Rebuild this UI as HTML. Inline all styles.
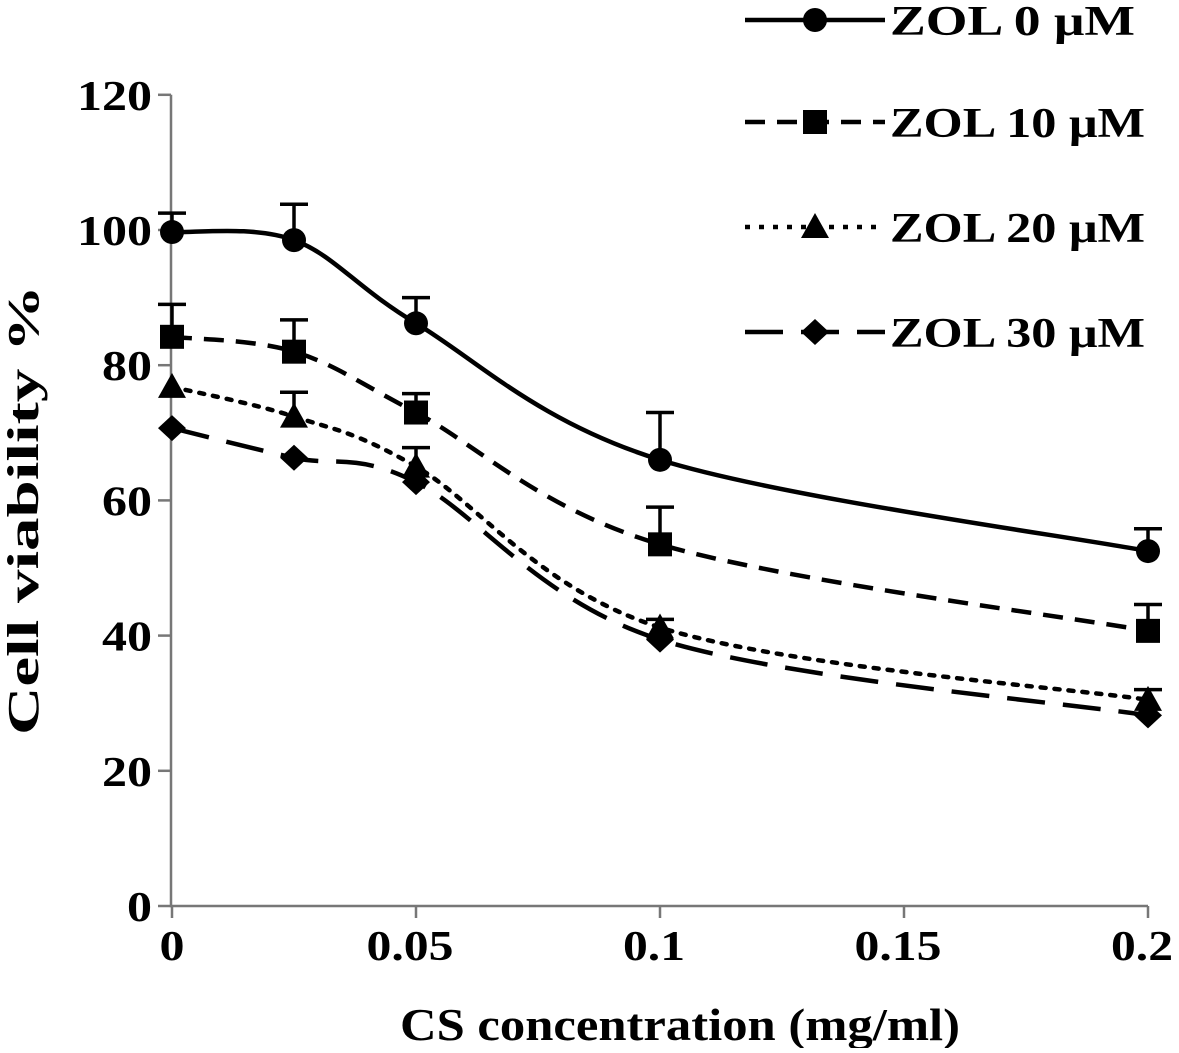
<!DOCTYPE html>
<html><head><meta charset="utf-8"><style>
body{margin:0;background:#fff}
text{font-family:"Liberation Serif",serif;font-weight:bold;fill:#000}
</style></head><body>
<svg id="c" width="1179" height="1048" viewBox="0 0 1179 1048" xmlns="http://www.w3.org/2000/svg">
<g id="axes"></g>
<g id="series"></g>
<g id="legend"></g>
<text x="400" y="1040" font-size="46" textLength="560" lengthAdjust="spacingAndGlyphs">CS concentration (mg/ml)</text>
<text transform="translate(38,735) rotate(-90)" font-size="44" textLength="450" lengthAdjust="spacingAndGlyphs">Cell viability %</text>
</svg>
<script>
const xValues=[0,0.025,0.05,0.1,0.2];
const xTicks=[0,0.05,0.1,0.15,0.2];
const xTickLabels=["0","0.05","0.1","0.15","0.2"];
const yTicks=[0,20,40,60,80,100,120];
const seriesNames=["ZOL 0 μM","ZOL 10 μM","ZOL 20 μM","ZOL 30 μM"];
const zol0=[99.7,98.5,86.2,66,52.5];
const zol10=[84.2,82,73,53.5,40.7];
const zol20=[76.8,72.4,65,41.2,30.5];
const zol30=[70.7,66.3,62.7,39.4,28.2];
const err0=[2.8,5.3,3.8,7,3.3];
const err10=[4.8,4.7,2.8,5.5,3.9];
const err20=[0,3.6,2.8,1.2,1.5];
const err30=[0,0,0,0,0];
const NS="http://www.w3.org/2000/svg";
const X=v=>172+v*(1148-172)/0.2;
const Y=v=>906-v*6.76;
function mk(tag,attrs,parent){const e=document.createElementNS(NS,tag);for(const k in attrs)e.setAttribute(k,attrs[k]);parent.appendChild(e);return e;}
const axes=document.getElementById('axes');
let a=mk('path',{d:`M171 ${Y(120)} V906 H1148`,stroke:'#777',fill:'none','stroke-width':2.5},axes);


yTicks.forEach(t=>{
 let l=mk('line',{x1:158,x2:171,y1:Y(t),y2:Y(t),stroke:'#777','stroke-width':2.5},axes);
 
 
 const s=String(t);
 let tx=mk('text',{x:152-s.length*25,y:Y(t)+15,'font-size':42,textLength:s.length*25,lengthAdjust:'spacingAndGlyphs'},axes);tx.textContent=s;
 
 
});
xTicks.forEach((t,i)=>{
 let l=mk('line',{x1:X(t),x2:X(t),y1:906,y2:918,stroke:'#777','stroke-width':2.5},axes);
 
 
 const s=xTickLabels[i];
 const w=s.replace('.','').length*25+(s.includes('.')?12:0);
 let tx=mk('text',{x:X(t)-(i==0?0:6)-w/2,y:960,'font-size':42,textLength:w,lengthAdjust:'spacingAndGlyphs'},axes);tx.textContent=s;
 
 
});
const dashes=["none","20 12","5 9","38 18"];
const markers=["circle","square","triangle","diamond"];
function marker(type,x,y,g){
 let e;
 if(type=="circle")e=mk('circle',{cx:x,cy:y,r:12},g);
 else if(type=="square")e=mk('rect',{x:x-12,y:y-12,width:24,height:24},g);
 else if(type=="triangle")e=mk('polygon',{points:`${x},${y-14} ${x+14},${y+11} ${x-14},${y+11}`},g);
 else e=mk('polygon',{points:`${x},${y-13} ${x+14},${y} ${x},${y+13} ${x-14},${y}`},g);
 e.setAttribute('fill','#000');
 return e;
}
function smooth(pts){
 let d=`M${pts[0][0]} ${pts[0][1]}`;
 for(let i=0;i<pts.length-1;i++){
  const p0=pts[Math.max(0,i-1)],p1=pts[i],p2=pts[i+1],p3=pts[Math.min(pts.length-1,i+2)];
  const c1=[p1[0]+(p2[0]-p0[0])/6,p1[1]+(p2[1]-p0[1])/6],c2=[p2[0]-(p3[0]-p1[0])/6,p2[1]-(p3[1]-p1[1])/6];
  d+=` C${c1[0]} ${c1[1]} ${c2[0]} ${c2[1]} ${p2[0]} ${p2[1]}`;
 }
 return d;
}
const all=[zol0,zol10,zol20,zol30],errs=[err0,err10,err20,err30];
const sg=document.getElementById('series');
all.forEach((vals,s)=>{
 const g=mk('g',{},sg);
 
 
 vals.forEach((v,i)=>{if(errs[s][i]>0){
  const x=X(xValues[i]),y0=Y(v),y1=Y(v+errs[s][i]);
  let e=mk('path',{d:`M${x} ${y0} V${y1} M${x-14} ${y1} H${x+14}`,stroke:'#000','stroke-width':3.5,fill:'none'},g);
  
  
 }});
 const pts=vals.map((v,i)=>[X(xValues[i]),Y(v)]);
 let p=mk('path',{d:smooth(pts),stroke:'#000','stroke-width':4.5,fill:'none','stroke-dasharray':dashes[s],'stroke-linecap':s==2?'round':'butt'},g);
 
 
 pts.forEach(q=>{let m=marker(markers[s],q[0],q[1],g);
  
  });
});
const lg=document.getElementById('legend');
const ly=[20,122,227,332];
const lw=[245,255,255,255];
seriesNames.forEach((n,s)=>{
 const g=mk('g',{},lg);
 
 
 mk('line',{x1:745,x2:885,y1:ly[s],y2:ly[s],stroke:'#000','stroke-width':4.5,'stroke-dasharray':dashes[s]},g);
 marker(markers[s],815,ly[s],g);
 let t=mk('text',{x:890,y:ly[s]+15,'font-size':42,textLength:lw[s],lengthAdjust:'spacingAndGlyphs'},g);t.textContent=n;
});
</script>
</body></html>
